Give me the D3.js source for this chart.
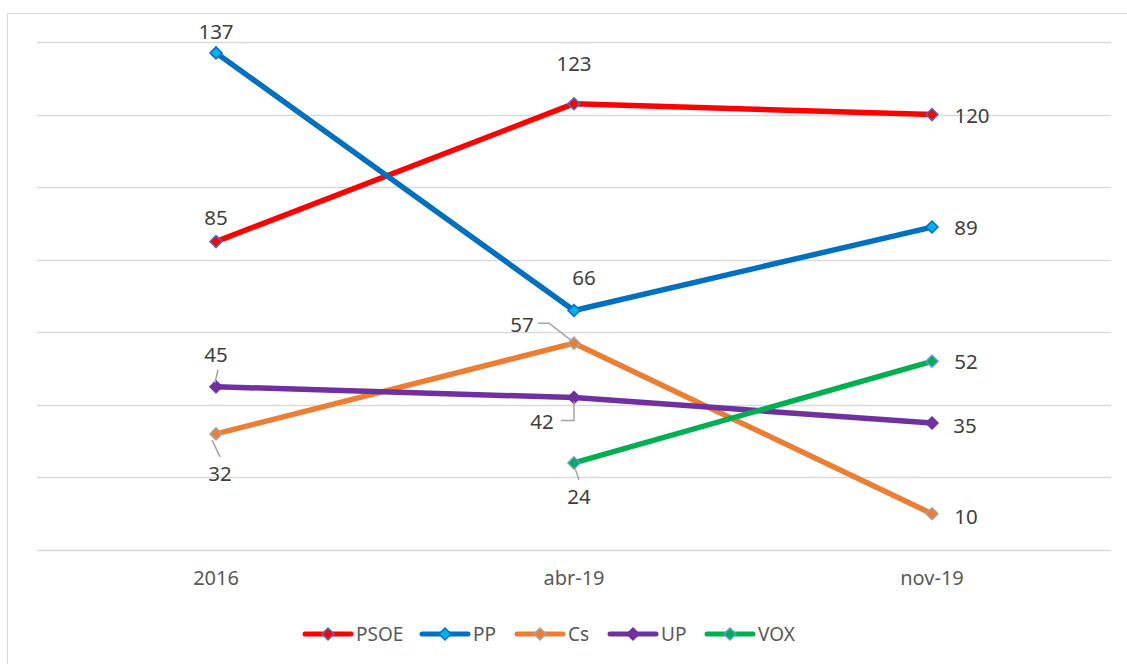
<!DOCTYPE html>
<html>
<head>
<meta charset="utf-8">
<script src="https://cdn.jsdelivr.net/npm/d3@7"></script>
<style>
  html, body { margin: 0; padding: 0; background: #fff; }
  svg { display: block; font-family: "Noto Sans", "Open Sans", sans-serif; }
</style>
</head>
<body>
<svg id="chart" width="1127" height="664"></svg>
<script>
const periods = ["2016", "abr-19", "nov-19"];
const parties = ["PSOE", "PP", "Cs", "UP", "VOX"];
const psoe = [85, 123, 120];
const pp = [137, 66, 89];
const cs = [32, 57, 10];
const up = [45, 42, 35];
const vox = [null, 24, 52];

const series = [
  { name: "PSOE", values: psoe, line: "#ff0000", fill: "#ff0000", stroke: "#4472c4" },
  { name: "PP", values: pp, line: "#0070c0", fill: "#00b0f0", stroke: "#0070c0" },
  { name: "Cs", values: cs, line: "#ed7d31", fill: "#ed7d31", stroke: "#a5a5a5" },
  { name: "UP", values: up, line: "#7030a0", fill: "#7030a0", stroke: "#7030a0" },
  { name: "VOX", values: vox, line: "#00b050", fill: "#00b050", stroke: "#5b9bd5" }
];

// label placement per series/point: [dx, dy] of label centre, optional leader polyline
const placement = {
  PSOE: [{ d: [0, -25] }, { d: [0, -41] }, { d: [40, 0] }],
  PP: [{ d: [0, -22] }, { d: [10, -34] }, { d: [34, 0] }],
  Cs: [
    { d: [4, 39], leader: [[-4, 6], [4, 23]] },
    { d: [-52, -19], leader: [[-36, -20], [-25, -20], [-2, -2]] },
    { d: [34, 2] }
  ],
  UP: [
    { d: [0, -33], leader: [[2, -17], [-1, -4]] },
    { d: [-32, 23], leader: [[-13, 23], [0, 23], [0, 4]] },
    { d: [33, 2] }
  ],
  VOX: [null, { d: [5, 33], leader: [[1, 5], [5, 17]] }, { d: [34, 0] }]
};

const svg = d3.select("#chart");
const margin = { top: 42, right: 16, bottom: 114, left: 37 };
const width = 1127 - margin.left - margin.right;
const height = 664 - margin.top - margin.bottom;

// outer border
svg.append("rect")
  .attr("x", 7.5).attr("y", 13.5)
  .attr("width", 1127).attr("height", 664)
  .attr("fill", "none").attr("stroke", "#d9d9d9").attr("stroke-width", 1);

const g = svg.append("g").attr("transform", `translate(${margin.left},${margin.top})`);

const x = d3.scaleBand().domain(periods).range([0, width]);
const y = d3.scaleLinear().domain([0, 140]).range([height, 0]);
const cx = (p) => x(p) + x.bandwidth() / 2;

// gridlines
g.append("g")
  .selectAll("line")
  .data(y.ticks(7))
  .join("line")
  .attr("x1", 0).attr("x2", width)
  .attr("y1", (d) => Math.round(y(d)) + 0.5)
  .attr("y2", (d) => Math.round(y(d)) + 0.5)
  .attr("stroke", "#d9d9d9").attr("stroke-width", 1.5);

// x axis
const xAxis = g.append("g")
  .attr("transform", `translate(0,${height})`)
  .call(d3.axisBottom(x).tickSize(0).tickPadding(21));
xAxis.select(".domain").remove();
xAxis.selectAll("text")
  .attr("fill", "#595959")
  .style("font-size", "20px")
  .style("font-family", "Noto Sans, sans-serif");

const diamond = (r) => `M0,${-r}L${r},0L0,${r}L${-r},0Z`;

const line = d3.line()
  .defined((d) => d.v != null)
  .x((d) => cx(d.p))
  .y((d) => y(d.v));

series.forEach((s) => {
  const pts = s.values.map((v, i) => ({ p: periods[i], v, i }));
  g.append("path")
    .datum(pts)
    .attr("d", line)
    .attr("fill", "none")
    .attr("stroke", s.line)
    .attr("stroke-width", 5.5)
    .attr("stroke-linejoin", "round");
});

series.forEach((s) => {
  const pts = s.values.map((v, i) => ({ p: periods[i], v, i })).filter((d) => d.v != null);
  g.selectAll(null)
    .data(pts)
    .join("path")
    .attr("transform", (d) => `translate(${cx(d.p)},${y(d.v)})`)
    .attr("d", diamond(6))
    .attr("fill", s.fill)
    .attr("stroke", s.stroke)
    .attr("stroke-width", 1.5);
});

// data labels + leader lines
series.forEach((s) => {
  s.values.forEach((v, i) => {
    if (v == null) return;
    const pl = placement[s.name][i];
    const px = cx(periods[i]);
    const py = y(v);
    if (pl.leader) {
      g.append("path")
        .attr("d", d3.line()(pl.leader.map(([dx, dy]) => [px + dx, py + dy])))
        .attr("fill", "none")
        .attr("stroke", "#a5a5a5")
        .attr("stroke-width", 1.5);
    }
    g.append("text")
      .attr("x", px + pl.d[0])
      .attr("y", py + pl.d[1])
      .attr("text-anchor", "middle")
      .attr("dominant-baseline", "central")
      .attr("fill", "#404040")
      .style("font-size", "20.5px")
      .text(v);
  });
});

// legend
const legendX = d3.scaleOrdinal().domain(parties).range([303, 420, 515, 608, 705]);
const legend = svg.append("g").attr("transform", "translate(0,634)");
series.forEach((s) => {
  const lx = legendX(s.name);
  const item = legend.append("g").attr("transform", `translate(${lx},0)`);
  item.append("line")
    .attr("x1", 2).attr("x2", 48)
    .attr("stroke", s.line).attr("stroke-width", 5).attr("stroke-linecap", "round");
  item.append("path")
    .attr("transform", "translate(25,0)")
    .attr("d", diamond(6))
    .attr("fill", s.fill).attr("stroke", s.stroke).attr("stroke-width", 1.5);
  item.append("text")
    .attr("x", 53).attr("y", 0)
    .attr("dominant-baseline", "central")
    .attr("fill", "#595959")
    .style("font-size", "19px")
    .text(s.name);
});
</script>
</body>
</html>
